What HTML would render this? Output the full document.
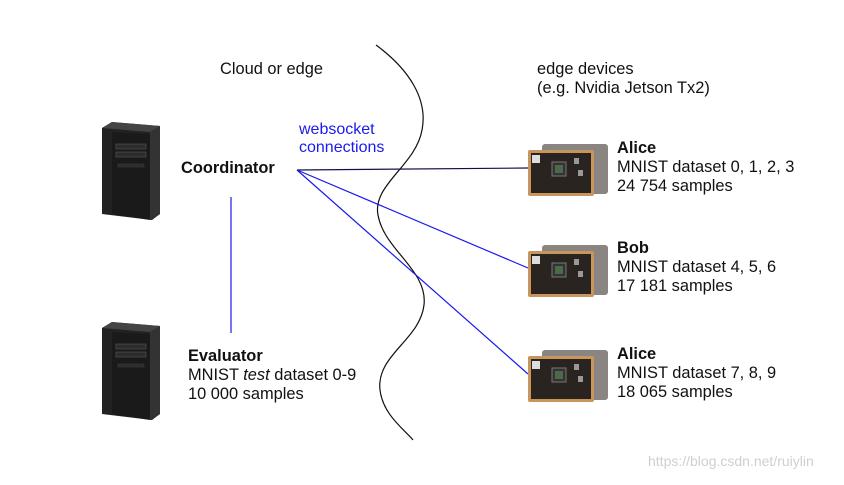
<!DOCTYPE html>
<html><head><style>
body{margin:0;width:844px;height:480px;background:#fff;overflow:hidden;font-family:"Liberation Sans",sans-serif;}
</style></head><body>
<svg width="844" height="480" xmlns="http://www.w3.org/2000/svg" font-family="Liberation Sans, sans-serif">
<rect width="844" height="480" fill="#fff"/>
<defs>
<g id="pc">
<polygon points="0,6 10,0 58,4 58,92 50,98 0,92" fill="#222"/>
<polygon points="0,6 10,0 58,4 48,10" fill="#444"/>
<polygon points="48,10 58,4 58,92 48,98" fill="#333"/>
<polygon points="10,10 48,12 48,98 10,92" fill="#1a1a1a"/>
<rect x="14" y="22" width="30" height="5" fill="#2c2c2c" stroke="#555" stroke-width="0.6"/>
<rect x="14" y="30" width="30" height="5" fill="#2c2c2c" stroke="#555" stroke-width="0.6"/>
<rect x="16" y="42" width="26" height="3" fill="#2a2a2a" stroke="#444" stroke-width="0.5"/>
</g>
<g id="board">
<rect x="14" y="0" width="66" height="50" rx="3" fill="#8a8580"/>
<rect x="0" y="6" width="66" height="46" rx="2" fill="#c8955c"/>
<rect x="3" y="9" width="60" height="40" fill="#2a2420"/>
<rect x="4" y="11" width="8" height="8" fill="#ddd"/>
<rect x="24" y="18" width="14" height="14" fill="#333" stroke="#777"/>
<rect x="27" y="21" width="8" height="8" fill="#4a6a4a"/>
<rect x="46" y="14" width="5" height="6" fill="#999"/>
<rect x="50" y="26" width="5" height="6" fill="#999"/>
</g>
</defs>
<path d="M376,45 C410,70 428,100 422,130 C416,165 372,185 378,215 C384,250 428,270 424,305 C420,340 376,355 380,390 C383,415 405,430 413,440" fill="none" stroke="#111" stroke-width="1.2"/>
<use href="#pc" x="102" y="122"/>
<use href="#pc" x="102" y="322"/>
<line x1="231" y1="197" x2="231" y2="333" stroke="#1a1aee" stroke-width="1.2"/>
<line x1="297" y1="170" x2="528" y2="168" stroke="#11114a" stroke-width="1.2"/>
<line x1="297" y1="170" x2="528" y2="268" stroke="#1a1aee" stroke-width="1.2"/>
<line x1="297" y1="170" x2="528" y2="374" stroke="#1a1aee" stroke-width="1.2"/>
<use href="#board" x="528" y="144"/>
<use href="#board" x="528" y="245"/>
<use href="#board" x="528" y="350"/>
<g font-size="16.4" fill="#111">
<text x="220" y="74">Cloud or edge</text>
<text x="537" y="74">edge devices</text>
<text x="537" y="93">(e.g. Nvidia Jetson Tx2)</text>
<text x="181" y="173" font-weight="bold">Coordinator</text>
<text x="188" y="361" font-weight="bold">Evaluator</text>
<text x="188" y="380">MNIST <tspan font-style="italic">test</tspan> dataset 0-9</text>
<text x="188" y="399">10 000 samples</text>
<text x="617" y="153" font-weight="bold">Alice</text>
<text x="617" y="172">MNIST dataset 0, 1, 2, 3</text>
<text x="617" y="191">24 754 samples</text>
<text x="617" y="253" font-weight="bold">Bob</text>
<text x="617" y="272">MNIST dataset 4, 5, 6</text>
<text x="617" y="291">17 181 samples</text>
<text x="617" y="359" font-weight="bold">Alice</text>
<text x="617" y="378">MNIST dataset 7, 8, 9</text>
<text x="617" y="397">18 065 samples</text>
</g>
<text x="299" y="134" font-size="16" fill="#1a1aee">websocket</text>
<text x="299" y="152" font-size="16" fill="#1a1aee">connections</text>
<text x="648" y="466" font-size="14" fill="#cfcfcf">https://blog.csdn.net/ruiylin</text>
</svg>
</body></html>
